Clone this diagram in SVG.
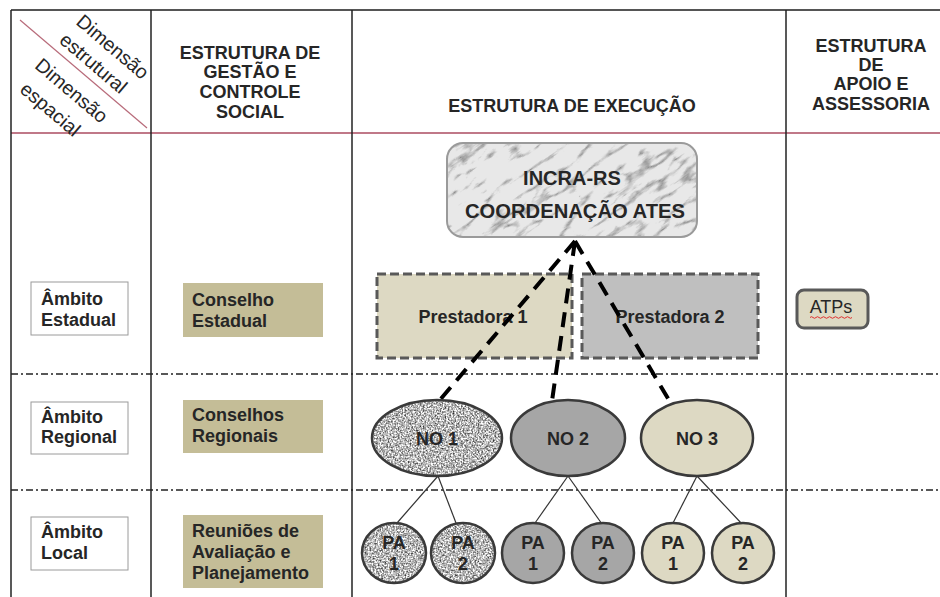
<svg xmlns="http://www.w3.org/2000/svg" width="940" height="597" viewBox="0 0 940 597">
<defs>
<style>
.t{font-family:"Liberation Sans",Arial,Helvetica,sans-serif;fill:#262626;font-size:18px}
.b{font-weight:bold}
.m{text-anchor:middle}
.v{stroke:#222;stroke-width:1.5}
.dd{stroke:#222;stroke-width:1.3;stroke-dasharray:7 3 2 3;fill:none}
.wb{fill:#fff;stroke:#9a9a9a;stroke-width:1}
.tan{fill:#c4bd97;stroke:none}
.pr{stroke:#595959;stroke-width:3;stroke-dasharray:9 4}
.ol{fill:none;stroke:#3a3a3a;stroke-width:2.5}
.thin{stroke:#333;stroke-width:1.2}
.cn{stroke:#000;stroke-width:4;stroke-dasharray:15 9;fill:none}
</style>
<filter id="granite" x="0" y="0" width="1" height="1" color-interpolation-filters="sRGB">
<feTurbulence type="fractalNoise" baseFrequency="0.6" numOctaves="2" seed="3" result="n"/>
<feColorMatrix in="n" type="matrix" values="1.5 0 0 0 -0.03  1.5 0 0 0 -0.03  1.5 0 0 0 -0.03  0 0 0 0 1" result="g"/>
<feComposite in="g" in2="SourceGraphic" operator="in"/>
</filter>
<filter id="marble" color-interpolation-filters="sRGB">
<feTurbulence type="turbulence" baseFrequency="0.02 0.06" numOctaves="4" seed="11" result="n"/>
<feColorMatrix in="n" type="matrix" values="1.6 0 0 0 0.58  1.6 0 0 0 0.58  1.6 0 0 0 0.58  0 0 0 0 1" result="g"/>
<feComponentTransfer in="g" result="h"><feFuncR type="linear" slope="0.91"/><feFuncG type="linear" slope="0.91"/><feFuncB type="linear" slope="0.91"/></feComponentTransfer>
<feComposite in="h" in2="SourceGraphic" operator="in"/>
</filter>
<clipPath id="incraClip"><rect x="447" y="143" width="250" height="94" rx="16"/></clipPath>
</defs>
<rect width="940" height="597" fill="#fff"/>

<g id="grid">
<line x1="11" y1="10" x2="940" y2="10" stroke="#555" stroke-width="2"/>
<line x1="11" y1="133" x2="940" y2="133" stroke="#c07888" stroke-width="2"/>
<line class="v" x1="11" y1="10" x2="11" y2="597"/>
<line class="v" x1="151" y1="10" x2="151" y2="597"/>
<line class="v" x1="352" y1="10" x2="352" y2="597"/>
<line class="v" x1="786" y1="10" x2="786" y2="597"/>
<line x1="20" y1="20" x2="147" y2="128" stroke="#b86b7a" stroke-width="1.2"/>
<line class="dd" x1="11" y1="374" x2="940" y2="374"/>
<line class="dd" x1="11" y1="490" x2="940" y2="490"/>
</g>

<g id="header-dimensoes" class="t" style="font-size:19.5px">
<g transform="translate(20,20) rotate(40.4)">
<text class="m" x="88" y="-33">Dimensão</text>
<text class="m" x="84" y="-8">estrutural</text>
<text class="m" x="85" y="27">Dimensão</text>
<text class="m" x="81" y="55">espacial</text>
</g>
</g>

<g id="header-gestao" class="t b m">
<text x="250" y="59">ESTRUTURA DE</text>
<text x="250" y="78">GESTÃO E</text>
<text x="250" y="98">CONTROLE</text>
<text x="250" y="118">SOCIAL</text>
</g>
<g id="header-execucao" class="t b m">
<text x="572" y="112">ESTRUTURA DE EXECUÇÃO</text>
</g>
<g id="header-apoio" class="t b m">
<text x="871" y="52">ESTRUTURA</text>
<text x="871" y="71">DE</text>
<text x="871" y="90">APOIO E</text>
<text x="871" y="110">ASSESSORIA</text>
</g>

<g id="ambito-estadual">
<rect class="wb" x="31" y="282" width="97" height="53"/>
<text class="t b" x="41" y="305">Âmbito</text>
<text class="t b" x="41" y="326">Estadual</text>
</g>
<g id="ambito-regional">
<rect class="wb" x="31" y="402" width="97" height="52"/>
<text class="t b" x="41" y="423">Âmbito</text>
<text class="t b" x="41" y="443">Regional</text>
</g>
<g id="ambito-local">
<rect class="wb" x="31" y="517" width="97" height="53"/>
<text class="t b" x="41" y="538">Âmbito</text>
<text class="t b" x="41" y="559">Local</text>
</g>

<g id="conselho-estadual">
<rect class="tan" x="183" y="283" width="140" height="54"/>
<text class="t b" x="192" y="306">Conselho</text>
<text class="t b" x="192" y="327">Estadual</text>
</g>
<g id="conselhos-regionais">
<rect class="tan" x="183" y="400" width="140" height="53"/>
<text class="t b" x="192" y="421">Conselhos</text>
<text class="t b" x="192" y="442">Regionais</text>
</g>
<g id="reunioes">
<rect class="tan" x="183" y="515" width="140" height="73"/>
<text class="t b" x="192" y="537">Reuniões de</text>
<text class="t b" x="192" y="558">Avaliação e</text>
<text class="t b" x="192" y="579">Planejamento</text>
</g>

<g id="incra">
<g clip-path="url(#incraClip)">
<rect x="380" y="20" width="390" height="340" fill="#fff" filter="url(#marble)" transform="rotate(-35 572 190)"/>
</g>
<rect x="447" y="143" width="250" height="94" rx="16" fill="none" stroke="#9a9a9a" stroke-width="2"/>
<text class="t b m" x="572" y="185" style="font-size:20px">INCRA-RS</text>
<text class="t b m" x="575" y="218" style="font-size:20px" textLength="220" lengthAdjust="spacingAndGlyphs">COORDENAÇÃO ATES</text>
</g>

<g id="prestadora1">
<rect class="pr" x="377" y="274" width="195" height="84" fill="#ddd9c3"/>
<text class="t b m" x="473" y="323">Prestadora 1</text>
</g>
<g id="prestadora2">
<rect class="pr" x="582" y="274" width="176" height="84" fill="#bfbfbf"/>
<text class="t b m" x="670" y="323">Prestadora 2</text>
</g>

<g id="atps">
<rect x="797" y="290" width="71" height="38" rx="7" fill="#ddd9c3" stroke="#595959" stroke-width="3"/>
<text class="t m" x="831" y="313">ATPs</text>
<path d="M810 317.5 q1.5 -1.6 3 0 t3 0 t3 0 t3 0 t3 0 t3 0 t3 0 t3 0 t3 0 t3 0 t3 0 t3 0 t3 0 t3 0" fill="none" stroke="#e03030" stroke-width="1"/>
</g>

<g id="connectors">
<line class="cn" x1="575" y1="241" x2="439" y2="401"/>
<line class="cn" x1="575" y1="241" x2="552" y2="401"/>
<line class="cn" x1="575" y1="241" x2="673" y2="407"/>
<line class="thin" x1="438" y1="476" x2="397" y2="523"/>
<line class="thin" x1="438" y1="476" x2="456" y2="523"/>
<line class="thin" x1="568" y1="476" x2="535" y2="523"/>
<line class="thin" x1="568" y1="476" x2="602" y2="524"/>
<line class="thin" x1="697" y1="476" x2="673" y2="523"/>
<line class="thin" x1="697" y1="476" x2="742" y2="524"/>
</g>

<g id="no1">
<ellipse cx="437" cy="438" rx="65" ry="38" fill="#999" filter="url(#granite)"/>
<ellipse class="ol" cx="437" cy="438" rx="65" ry="38"/>
<text class="t b m" x="437" y="445">NO 1</text>
</g>
<g id="no2">
<ellipse class="ol" cx="568" cy="438" rx="57" ry="38" style="fill:#a6a6a6"/>
<text class="t b m" x="568" y="445">NO 2</text>
</g>
<g id="no3">
<ellipse class="ol" cx="697" cy="438" rx="56" ry="38" style="fill:#ddd9c3"/>
<text class="t b m" x="697" y="445">NO 3</text>
</g>

<g id="no1-pa1">
<ellipse cx="394" cy="553" rx="32" ry="30" fill="#999" filter="url(#granite)"/>
<ellipse class="ol" cx="394" cy="553" rx="32" ry="30"/>
<text class="t b m" x="394" y="549">PA</text><text class="t b m" x="394" y="570">1</text>
</g>
<g id="no1-pa2">
<ellipse cx="463" cy="553" rx="32" ry="30" fill="#999" filter="url(#granite)"/>
<ellipse class="ol" cx="463" cy="553" rx="32" ry="30"/>
<text class="t b m" x="463" y="549">PA</text><text class="t b m" x="463" y="570">2</text>
</g>
<g id="no2-pa1">
<ellipse class="ol" cx="533" cy="553" rx="31" ry="30" style="fill:#a6a6a6"/>
<text class="t b m" x="533" y="549">PA</text><text class="t b m" x="533" y="570">1</text>
</g>
<g id="no2-pa2">
<ellipse class="ol" cx="603" cy="553" rx="31" ry="30" style="fill:#a6a6a6"/>
<text class="t b m" x="603" y="549">PA</text><text class="t b m" x="603" y="570">2</text>
</g>
<g id="no3-pa1">
<ellipse class="ol" cx="673" cy="553" rx="31" ry="30" style="fill:#ddd9c3"/>
<text class="t b m" x="673" y="549">PA</text><text class="t b m" x="673" y="570">1</text>
</g>
<g id="no3-pa2">
<ellipse class="ol" cx="743" cy="553" rx="31" ry="30" style="fill:#ddd9c3"/>
<text class="t b m" x="743" y="549">PA</text><text class="t b m" x="743" y="570">2</text>
</g>
</svg>
